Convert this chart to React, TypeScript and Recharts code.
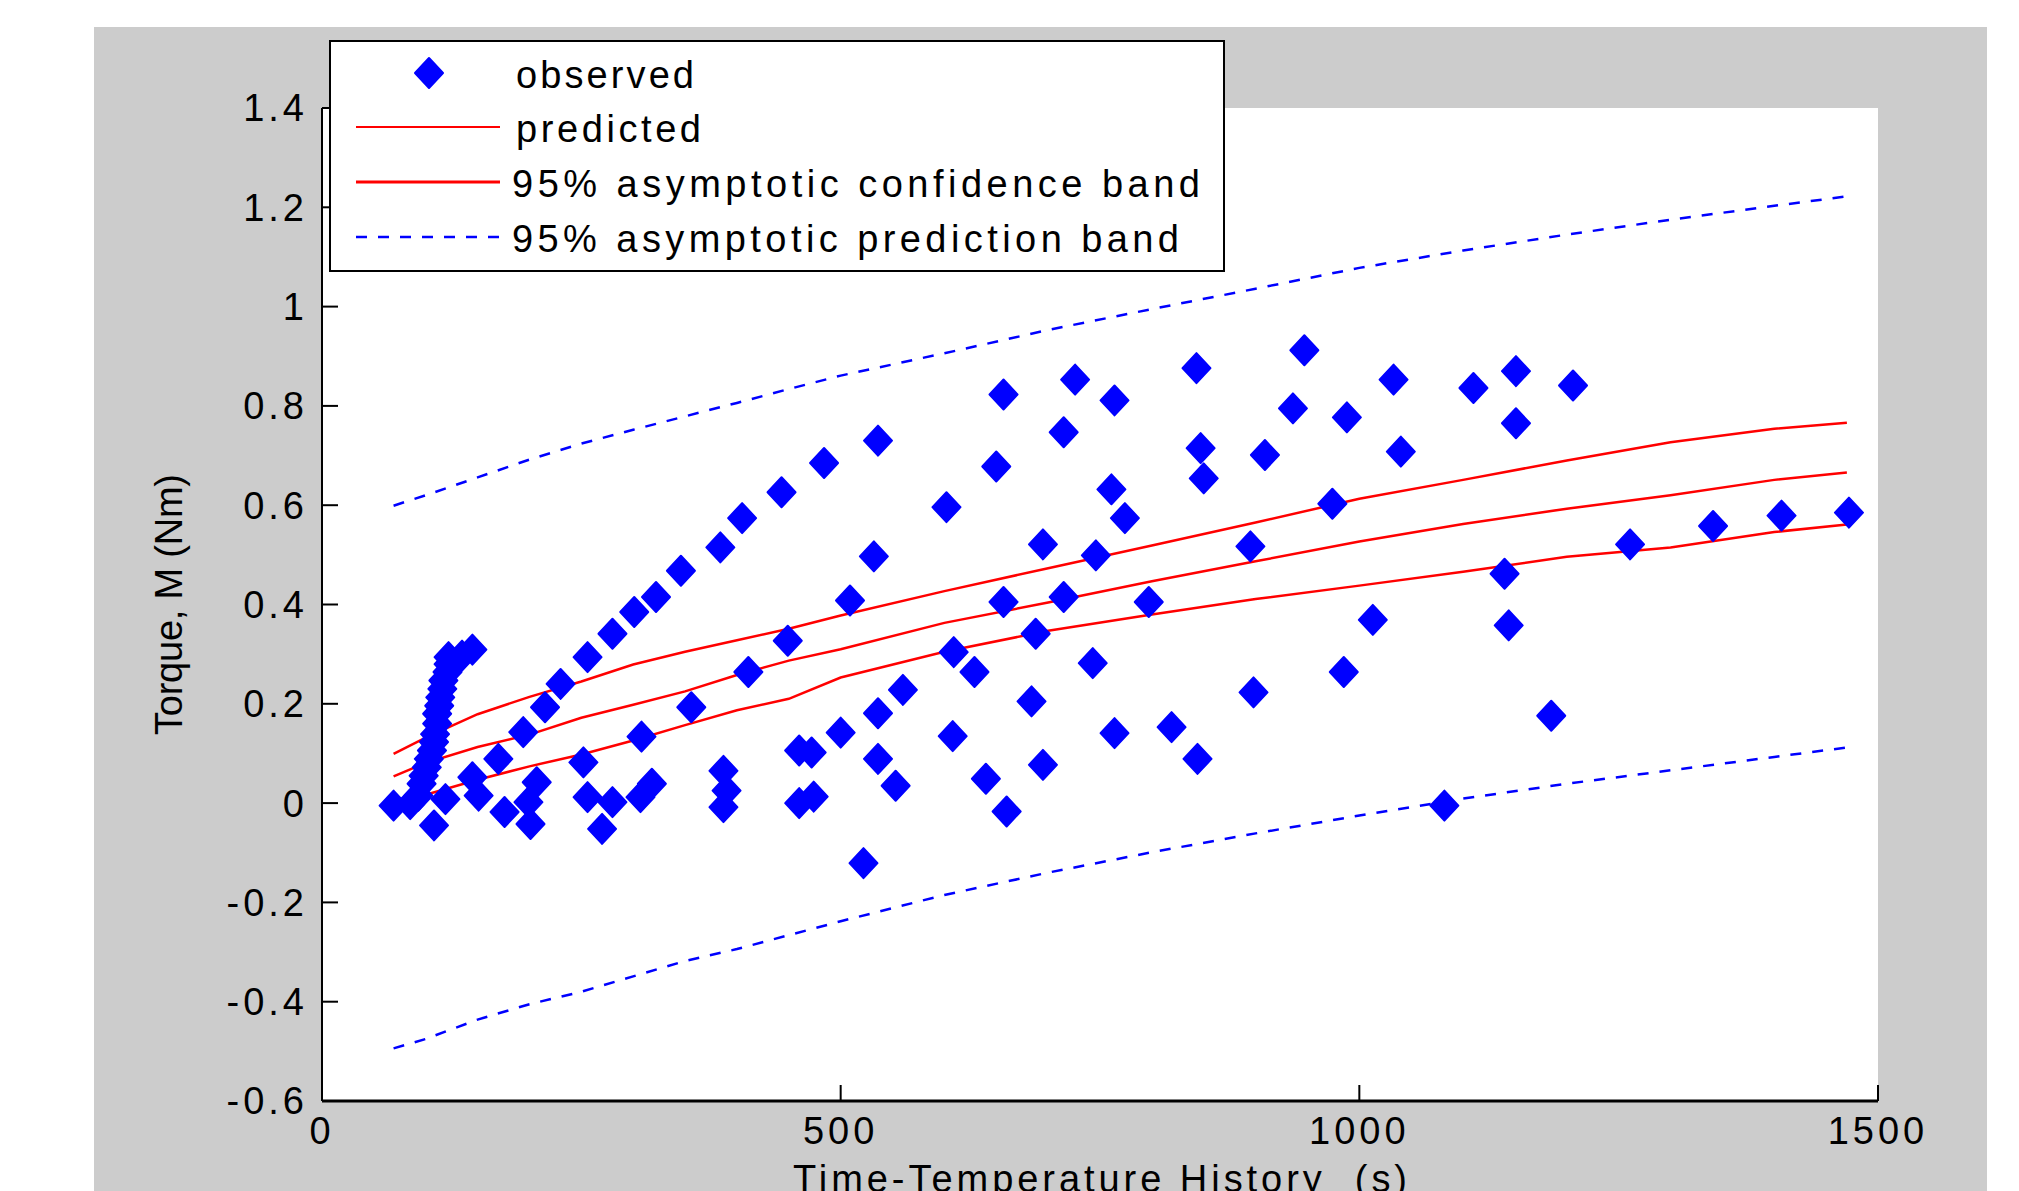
import {
  CartesianGrid,
  ComposedChart,
  Label,
  Legend,
  Line,
  Scatter,
  XAxis,
  YAxis,
} from "recharts";

const observedTime = [
  69, 85, 93, 96, 98, 101, 103, 106, 108, 109, 111, 111, 113, 114, 116, 117, 121, 122, 122, 135, 145,
  119, 108, 145, 151, 176, 170, 194, 201, 207, 199, 215, 230, 256, 280, 301, 322, 346, 384, 405, 443,
  484, 252, 256, 280, 270, 308, 318, 307, 356, 387, 390, 387, 411, 449, 460, 472, 460, 474, 500, 509,
  536, 532, 536, 536, 553, 560, 522, 602, 609, 608, 629, 640, 650, 657, 657, 660, 684, 688, 695, 695,
  715, 715, 726, 743, 746, 761, 764, 764, 774, 797, 819, 843, 844, 847, 850, 895, 898, 909, 936, 947,
  974, 985, 988, 1013, 1033, 1040, 1082, 1110, 1140, 1144, 1151, 1151, 1185, 1206, 1261, 1341, 1407, 1472,
];
const observedTorque = [
  -0.005, -0.002, 0.015, 0.039, 0.055, 0.072, 0.089, 0.106, 0.123, 0.139, 0.16, 0.18, 0.196, 0.213, 0.23,
  0.247, 0.264, 0.28, 0.294, 0.297, 0.309, 0.008, -0.045, 0.052, 0.015, -0.018, 0.089, 0.143, -0.042,
  0.042, 0.002, 0.193, 0.24, 0.294, 0.341, 0.385, 0.415, 0.468, 0.515, 0.574, 0.626, 0.685, 0.082, 0.012,
  0.002, -0.052, 0.134, 0.039, 0.012, 0.193, 0.065, 0.025, -0.008, 0.264, 0.327, 0.106, 0.102, 0.0, 0.013,
  0.142, 0.408, 0.73, 0.497, 0.181, 0.089, 0.035, 0.228, -0.121, 0.596, 0.304, 0.135, 0.264, 0.049, 0.678,
  0.823, 0.405, -0.017, 0.205, 0.341, 0.521, 0.077, 0.747, 0.415, 0.853, 0.282, 0.499, 0.632, 0.811, 0.141,
  0.574, 0.405, 0.153, 0.876, 0.089, 0.715, 0.654, 0.517, 0.223, 0.701, 0.795, 0.912, 0.603, 0.264, 0.777,
  0.369, 0.853, 0.708, -0.005, 0.836, 0.462, 0.358, 0.87, 0.765, 0.176, 0.841, 0.521, 0.558, 0.579, 0.585,
];

const fitTime = [69, 100, 150, 200, 250, 300, 350, 400, 450, 500, 600, 700, 800, 900, 1000, 1100, 1200, 1300, 1400, 1470];
const predicted = [0.054, 0.081, 0.113, 0.138, 0.172, 0.198, 0.225, 0.258, 0.287, 0.31, 0.363, 0.404, 0.447, 0.487, 0.527, 0.562, 0.593, 0.62, 0.651, 0.666];
const confUpper = [0.099, 0.132, 0.179, 0.214, 0.245, 0.279, 0.305, 0.328, 0.351, 0.378, 0.427, 0.473, 0.519, 0.565, 0.613, 0.651, 0.69, 0.727, 0.754, 0.766];
const confLower = [0.006, 0.017, 0.047, 0.074, 0.098, 0.126, 0.157, 0.187, 0.21, 0.253, 0.305, 0.347, 0.38, 0.411, 0.438, 0.466, 0.496, 0.515, 0.546, 0.561];
const predUpper = [0.599, 0.62, 0.656, 0.692, 0.724, 0.752, 0.779, 0.806, 0.834, 0.861, 0.906, 0.953, 0.995, 1.036, 1.078, 1.113, 1.145, 1.175, 1.203, 1.222];
const predLower = [-0.494, -0.475, -0.436, -0.405, -0.38, -0.349, -0.318, -0.294, -0.266, -0.238, -0.185, -0.14, -0.099, -0.061, -0.025, 0.009, 0.039, 0.066, 0.093, 0.112];

const xTicks = [0, 500, 1000, 1500];
const yTicks = [-0.6, -0.4, -0.2, 0, 0.2, 0.4, 0.6, 0.8, 1, 1.2, 1.4];
const legendLabels = [
  "observed",
  "predicted",
  "95% asymptotic confidence band",
  "95% asymptotic prediction band",
];

const observed = observedTime.map((x, i) => ({ x, y: observedTorque[i] }));
const fit = fitTime.map((x, i) => ({
  x,
  predicted: predicted[i],
  confUpper: confUpper[i],
  confLower: confLower[i],
  predUpper: predUpper[i],
  predLower: predLower[i],
}));

const BLUE = "#0000ff";
const RED = "#ff0000";
const FONT = 38;

function diamondPath(cx: number, cy: number) {
  return `M${cx},${cy - 15}L${cx + 14},${cy}L${cx},${cy + 15}L${cx - 14},${cy}Z`;
}

const Diamond = (props: any) => {
  const { cx, cy } = props;
  if (cx == null || cy == null) return null;
  return <path d={diamondPath(cx, cy)} fill={BLUE} stroke={BLUE} strokeWidth={2} strokeLinejoin="round" />;
};

const XTitle = (props: any) => {
  const vb = props.viewBox || { x: 228, y: 1074, width: 1556 };
  return (
    <text
      x={vb.x + vb.width / 2}
      y={vb.y + 91}
      textAnchor="middle"
      fontSize={FONT}
      fill="#000"
      textLength={614}
      lengthAdjust="spacing"
      style={{ letterSpacing: 0, whiteSpace: "pre" }}
    >
      {"Time-Temperature History  (s)"}
    </text>
  );
};

const YTitle = (props: any) => {
  const vb = props.viewBox || { x: 78, y: 81, height: 993 };
  const cx = vb.x + 10;
  const cy = vb.y + vb.height / 2;
  return (
    <text
      x={cx}
      y={cy}
      transform={`rotate(-90, ${cx}, ${cy})`}
      textAnchor="middle"
      fontSize={FONT}
      fill="#000"
      textLength={261}
      lengthAdjust="spacing"
      style={{ letterSpacing: 0 }}
    >
      Torque, M (Nm)
    </text>
  );
};

const legendText = [
  { x: 187, y: 48, len: 178 },
  { x: 187, y: 102, len: 185 },
  { x: 183, y: 157, len: 688 },
  { x: 183, y: 212, len: 667 },
];

const LegendBox = () => (
  <svg width={896} height={232} style={{ display: "block" }}>
    <rect x={1} y={1} width={894} height={230} fill="#fff" stroke="#000" strokeWidth={2} />
    <path d={diamondPath(100, 33)} fill={BLUE} stroke={BLUE} strokeWidth={2} strokeLinejoin="round" />
    <line x1={27} x2={171} y1={87} y2={87} stroke={RED} strokeWidth={2} />
    <line x1={27} x2={171} y1={142} y2={142} stroke={RED} strokeWidth={3} />
    <line x1={27} x2={171} y1={197} y2={197} stroke={BLUE} strokeWidth={2.5} strokeDasharray="11 11" />
    {legendLabels.map((label, i) => (
      <text
        key={label}
        x={legendText[i].x}
        y={legendText[i].y}
        fontSize={FONT}
        fill="#000"
        textLength={legendText[i].len}
        lengthAdjust="spacing"
        style={{ letterSpacing: 0 }}
      >
        {label}
      </text>
    ))}
  </svg>
);

export default function App() {
  return (
    <div
      style={{
        position: "fixed",
        left: 0,
        top: 0,
        width: 2019,
        height: 1191,
        background: "#fff",
        overflow: "hidden",
        fontFamily: "'Liberation Sans', Arial, sans-serif",
        letterSpacing: "4px",
      }}
    >
      <div style={{ position: "absolute", left: 94, top: 27, width: 1893, height: 1164, background: "#cccccc" }}>
        <ComposedChart width={1893} height={1164} margin={{ top: 81, right: 109, bottom: 0, left: 78 }}>
          <CartesianGrid horizontal={false} vertical={false} fill="#ffffff" />
          <XAxis
            type="number"
            dataKey="x"
            domain={[0, 1500]}
            ticks={xTicks}
            interval={0}
            height={90}
            axisLine={{ stroke: "#000", strokeWidth: 3 }}
            tickLine={{ stroke: "#000", strokeWidth: 2 }}
            tickSize={-16}
            tickMargin={32}
            tick={{ fill: "#000", fontSize: FONT }}
          >
            <Label content={XTitle} />
          </XAxis>
          <YAxis
            type="number"
            domain={[-0.6, 1.4]}
            ticks={yTicks}
            interval={0}
            width={150}
            axisLine={{ stroke: "#000", strokeWidth: 2 }}
            tickLine={{ stroke: "#000", strokeWidth: 2 }}
            tickSize={-16}
            tickMargin={30}
            tick={{ fill: "#000", fontSize: FONT }}
            tickFormatter={(v: number) => String(v)}
          >
            <Label content={YTitle} />
          </YAxis>
          <Legend
            layout="vertical"
            align="center"
            verticalAlign="middle"
            content={LegendBox}
            wrapperStyle={{ left: 235, top: 13, width: 896, height: 232 }}
          />
          <Scatter name="observed" data={observed} dataKey="y" shape={Diamond} isAnimationActive={false} />
          <Line data={fit} dataKey="predicted" type="linear" stroke={RED} strokeWidth={2.5} dot={false} isAnimationActive={false} />
          <Line data={fit} dataKey="confUpper" type="linear" stroke={RED} strokeWidth={2.5} dot={false} isAnimationActive={false} />
          <Line data={fit} dataKey="confLower" type="linear" stroke={RED} strokeWidth={2.5} dot={false} isAnimationActive={false} />
          <Line data={fit} dataKey="predUpper" type="linear" stroke={BLUE} strokeWidth={2.5} strokeDasharray="11 11" dot={false} isAnimationActive={false} />
          <Line data={fit} dataKey="predLower" type="linear" stroke={BLUE} strokeWidth={2.5} strokeDasharray="11 11" dot={false} isAnimationActive={false} />
        </ComposedChart>
      </div>
    </div>
  );
}
